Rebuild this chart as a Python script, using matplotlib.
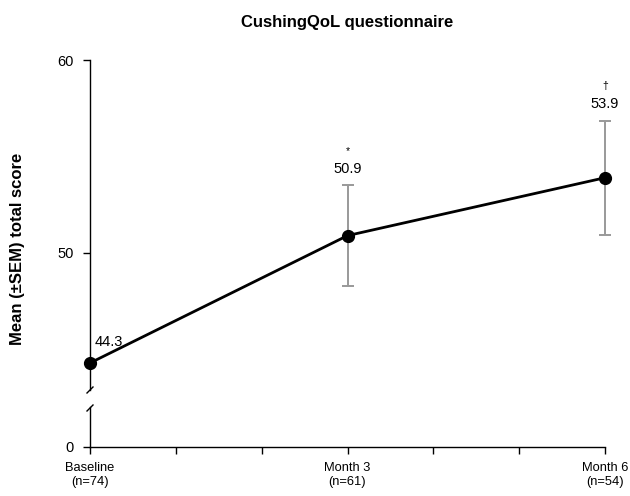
import matplotlib
matplotlib.use('Agg')
import matplotlib.pyplot as plt

# ── data ───────────────────────────────────────────────────────────────────
MONTHS     = [0, 3, 6]
MEANS      = [44.3, 50.9, 53.9]
SEM        = [None, 2.6, 2.95]
VALUE_TXT  = ['44.3', '50.9', '53.9']
SIG_MARKS  = ['', '*', '\u2020']
TICK_POS   = [0, 1, 2, 3, 4, 5, 6]
TICK_TXT   = ['Baseline\n(n=74)', '', '', 'Month 3\n(n=61)', '', '', 'Month 6\n(n=54)']

plt.rcParams.update({
    'font.family': ['Liberation Sans', 'DejaVu Sans'],
    'font.size': 9,
    'axes.linewidth': 1.0,
    'xtick.major.size': 5,
    'ytick.major.size': 5,
    'xtick.major.width': 1.0,
    'ytick.major.width': 1.0,
})

W, H = 630, 496
fig = plt.figure(figsize=(W / 100, H / 100), dpi=100)

def fx(px):
    return px / W

def fy(px):
    return 1 - px / H

left, right = fx(90), fx(605)
ax_top = fig.add_axes([left, fy(390), right - left, fy(60) - fy(390)])
ax_bot = fig.add_axes([left, fy(447), right - left, fy(407) - fy(447)])

# ── upper panel: the data ──────────────────────────────────────────────────
ax_top.set_xlim(0, 6)
ax_top.set_ylim(42.9, 60)
ax_top.plot(MONTHS, MEANS, color='black', lw=2.0, marker='o', ms=8.5,
            clip_on=False, zorder=4)
for x, m, s in zip(MONTHS, MEANS, SEM):
    if s is None:
        continue
    ax_top.errorbar([x], [m], yerr=[s], fmt='none', ecolor='#999999',
                    elinewidth=1.4, capsize=4.5, capthick=1.4, zorder=3,
                    clip_on=False)

for x, m, s, v, sig in zip(MONTHS, MEANS, SEM, VALUE_TXT, SIG_MARKS):
    if s is None:
        ax_top.annotate(v, (x, m), xytext=(3, 15), textcoords='offset points',
                        ha='left', va='center', fontsize=10.5)
        continue
    ax_top.annotate(v, (x, m + s), xytext=(0, 12), textcoords='offset points',
                    ha='center', va='center', fontsize=10.5)
    ax_top.annotate(sig, (x, m + s), xytext=(0, 25), textcoords='offset points',
                    ha='center', va='center', fontsize=7.5)

ax_top.set_yticks([50, 60])
ax_top.tick_params(axis='y', labelsize=10.5, pad=7)
ax_top.set_xticks([])
for sp in ('top', 'right', 'bottom'):
    ax_top.spines[sp].set_visible(False)

# ── lower panel: the zero stub and x axis ─────────────────────────────────
ax_bot.set_xlim(0, 6)
ax_bot.set_ylim(0, 40 / 19.3)
ax_bot.set_yticks([0])
ax_bot.tick_params(axis='y', labelsize=10.5, pad=7)
ax_bot.set_xticks(TICK_POS)
ax_bot.set_xticklabels(TICK_TXT, fontsize=9.3)
ax_bot.tick_params(axis='x', pad=6)
for sp in ('top', 'right'):
    ax_bot.spines[sp].set_visible(False)

# ── axis break slashes ────────────────────────────────────────────────────
for ypx in (390, 408):
    fig.add_artist(plt.Line2D([fx(87), fx(93)], [fy(ypx + 3), fy(ypx - 3)],
                              color='black', lw=1.0))

fig.text((left + right) / 2, fy(22), 'CushingQoL questionnaire',
         ha='center', va='center', fontsize=12, fontweight='bold')
fig.text(fx(18), fy(249), 'Mean (\u00b1SEM) total score', rotation=90,
         ha='center', va='center', fontsize=12, fontweight='bold')

fig.savefig('out.png', dpi=100)
